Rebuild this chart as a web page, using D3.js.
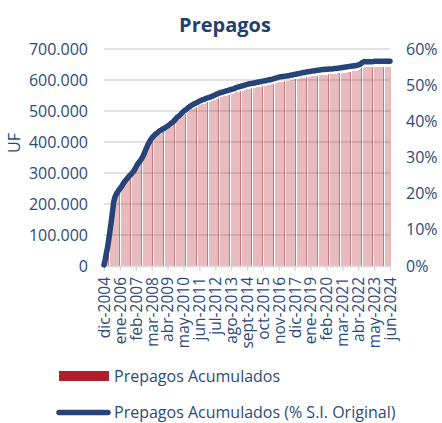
<!DOCTYPE html>
<html><head><meta charset="utf-8">
<script src="https://cdn.jsdelivr.net/npm/d3@7"></script>
<style>html,body{margin:0;padding:0;background:#fff;}svg{display:block;font-family:"Open Sans",sans-serif;}</style>
</head><body><svg id="c" width="442" height="423"></svg>
<script>
// Prepagos acumulados (% del saldo insoluto original), mensual dic-2004 .. jun-2024
const pctSI = [
 0.3,
 1.8,3.6,5.3,7.6,10.0,12.4,15.1,17.8,19.1,19.8,20.4,20.9,
 21.4,21.8,22.3,22.9,23.4,23.8,24.2,24.6,25.0,25.3,25.7,26.1,
 26.6,27.2,27.9,28.4,28.8,29.3,29.8,30.4,31.2,32.0,32.8,33.6,
 34.2,34.8,35.3,35.7,36.1,36.4,36.7,36.9,37.2,37.4,37.6,37.9,
 38.0,38.2,38.5,38.7,38.9,39.2,39.5,39.7,40.0,40.4,40.8,41.2,
 41.4,41.7,42.0,42.4,42.7,43.0,43.2,43.5,43.8,44.0,44.3,44.5,
 44.7,44.9,45.0,45.2,45.4,45.6,45.7,45.9,46.0,46.1,46.3,46.4,
 46.5,46.6,46.7,46.9,47.0,47.2,47.3,47.5,47.6,47.8,47.9,48.0,
 48.1,48.2,48.3,48.4,48.5,48.6,48.7,48.8,48.9,49.0,49.1,49.3,
 49.4,49.5,49.6,49.7,49.8,49.9,50.0,50.1,50.2,50.3,50.4,50.4,
 50.5,50.5,50.6,50.7,50.8,50.8,50.9,51.0,51.0,51.1,51.2,51.2,
 51.3,51.4,51.5,51.5,51.6,51.7,51.8,51.9,52.0,52.1,52.2,52.3,
 52.3,52.4,52.4,52.5,52.5,52.6,52.6,52.7,52.8,52.8,52.9,53.0,
 53.0,53.1,53.2,53.2,53.3,53.4,53.5,53.5,53.6,53.7,53.7,53.8,
 53.8,53.9,53.9,54.0,54.0,54.1,54.1,54.2,54.2,54.3,54.3,54.3,
 54.4,54.4,54.4,54.5,54.5,54.5,54.5,54.6,54.6,54.6,54.7,54.7,
 54.8,54.8,54.9,54.9,55.0,55.0,55.1,55.1,55.2,55.2,55.3,55.3,
 55.4,55.4,55.5,55.6,55.7,55.9,56.2,56.4,56.5,56.5,56.5,56.5,
 56.5,56.5,56.5,56.5,56.6,56.6,56.6,56.6,56.6,56.6,56.6,56.6,
 56.6,56.6,56.6,56.6,56.6,56.6
];
// Prepagos acumulados en miles de UF
const prepagosUF = [
 3,
 20,41,60,86,114,141,171,202,217,225,232,237,
 243,247,253,260,266,270,275,279,284,287,292,296,
 302,309,317,322,327,333,338,345,354,363,372,381,
 388,395,401,405,410,413,417,419,422,424,427,430,
 431,434,437,439,442,445,448,451,454,459,463,468,
 470,473,477,481,485,488,490,494,497,499,503,505,
 507,510,511,513,515,518,519,521,522,523,526,527,
 528,529,530,532,533,536,537,539,540,543,544,545,
 546,547,548,549,550,552,553,554,555,556,557,560,
 561,562,563,564,565,566,568,569,570,571,572,572,
 573,573,574,575,577,577,578,579,579,580,581,581,
 582,583,585,585,586,587,588,589,590,591,592,594,
 594,595,595,596,596,597,597,598,599,599,600,602,
 602,603,604,604,605,606,607,607,608,609,609,611,
 611,612,612,613,613,614,614,615,615,616,616,616,
 617,617,617,619,619,619,619,620,620,620,621,621,
 622,622,623,623,624,624,625,625,627,627,628,628,
 629,629,630,631,632,634,638,640,641,641,641,641,
 641,641,641,641,642,642,642,642,642,642,642,642,
 642,642,642,642,642,642
];
const tickLabels = ["dic-2004","ene-2006","feb-2007","mar-2008","abr-2009","may-2010","jun-2011","jul-2012","ago-2013","sept-2014","oct-2015","nov-2016","dic-2017","ene-2019","feb-2020","mar-2021","abr-2022","may-2023","jun-2024"];
const leftTicks = [0,100,200,300,400,500,600,700];
const leftTickLabels = ["0","100.000","200.000","300.000","400.000","500.000","600.000","700.000"];
const rightTicks = [0,10,20,30,40,50,60];
const rightTickLabels = ["0%","10%","20%","30%","40%","50%","60%"];
const seriesNames = ["Prepagos Acumulados","Prepagos Acumulados (% S.I. Original)"];

const monthNames = ["ene","feb","mar","abr","may","jun","jul","ago","sept","oct","nov","dic"];
const categories = [];
for (let k = 0; k < pctSI.length; k++) {
  const m = (11 + k) % 12, y = 2004 + Math.floor((11 + k) / 12);
  categories.push(monthNames[m] + "-" + y);
}

const TXT = "#2c4a7c", BLUE = "#264478", RED = "#b21f2c", GRID = "#d9d9d9";
const svg = d3.select("#c");
const L = 104, R = 390, T = 49, B = 266;

const x = d3.scalePoint().domain(categories).range([L, R]);
const yL = d3.scaleLinear().domain([0, 700]).range([B, T]);
const yR = d3.scaleLinear().domain([0, 60]).range([B, T]);

// title
svg.append("text").attr("x", 225).attr("y", 32).attr("text-anchor", "middle")
  .attr("font-size", 20).attr("font-weight", 700).attr("fill", "#23406f").text("Prepagos");

// gridlines
svg.append("g").selectAll("line").data(leftTicks.filter(d => d > 0)).join("line")
  .attr("x1", L).attr("x2", R).attr("y1", d => yL(d)).attr("y2", d => yL(d))
  .attr("stroke", GRID).attr("stroke-width", 1.3);

// bars
const bw = x.step() * 0.85;
svg.append("g").attr("shape-rendering", "crispEdges").selectAll("rect").data(prepagosUF).join("rect")
  .attr("x", (d, i) => x(categories[i]) - bw / 2).attr("width", bw)
  .attr("y", d => yL(d)).attr("height", d => B - yL(d))
  .attr("fill", RED).attr("fill-opacity", (d, i) => (i % 9 === 4 ? 0.62 : 0.3));

// x axis
const xa = svg.append("g").attr("transform", `translate(0,${B})`)
  .call(d3.axisBottom(x).tickValues(tickLabels).tickSize(5).tickSizeOuter(0));
xa.select(".domain").attr("stroke", GRID).attr("stroke-width", 1.3);
xa.selectAll(".tick line").attr("stroke", GRID).attr("stroke-width", 1.3);
xa.selectAll(".tick text").attr("transform", "rotate(-90)").attr("y", 0).attr("x", -11)
  .attr("dy", "0.35em").attr("text-anchor", "end").attr("font-size", 15.5)
  .attr("font-family", "Open Sans").attr("fill", TXT);

// left axis
const la = svg.append("g").attr("transform", `translate(${L},0)`)
  .call(d3.axisLeft(yL).tickValues(leftTicks).tickFormat((d, i) => leftTickLabels[i]).tickSize(0).tickPadding(16));
la.select(".domain").remove();
la.selectAll("text").attr("font-size", 16).attr("font-family", "Open Sans").attr("fill", TXT);

// right axis
const ra = svg.append("g").attr("transform", `translate(${R},0)`)
  .call(d3.axisRight(yR).tickValues(rightTicks).tickFormat((d, i) => rightTickLabels[i]).tickSize(0).tickPadding(16));
ra.select(".domain").remove();
ra.selectAll("text").attr("font-size", 16).attr("font-family", "Open Sans").attr("fill", TXT);

// UF label
svg.append("text").attr("transform", "translate(20,143) rotate(-90)").attr("text-anchor", "middle")
  .attr("font-size", 16).attr("fill", TXT).text("UF");

// line
svg.append("path").datum(pctSI)
  .attr("d", d3.line().x((d, i) => x(categories[i])).y(d => yR(d)))
  .attr("fill", "none").attr("stroke", BLUE).attr("stroke-width", 5.5)
  .attr("stroke-linecap", "round").attr("stroke-linejoin", "round");

// legend
svg.append("rect").attr("x", 59).attr("y", 371).attr("width", 50).attr("height", 10).attr("fill", RED);
svg.append("text").attr("x", 114).attr("y", 381.5).attr("font-size", 16).attr("fill", TXT).text(seriesNames[0]);
svg.append("line").attr("x1", 59).attr("x2", 108).attr("y1", 412.5).attr("y2", 412.5)
  .attr("stroke", BLUE).attr("stroke-width", 5.5).attr("stroke-linecap", "round");
svg.append("text").attr("x", 114).attr("y", 418).attr("font-size", 16).attr("fill", TXT).text(seriesNames[1]);
</script></body></html>
